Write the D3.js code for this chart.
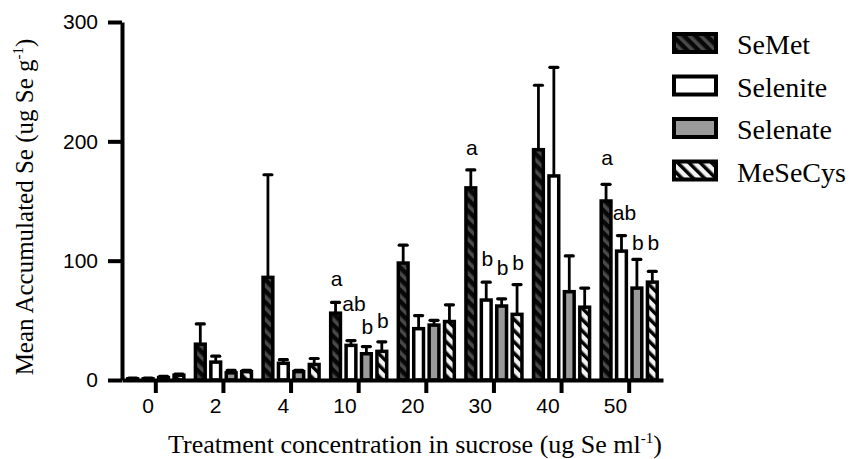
<!DOCTYPE html>
<html>
<head>
<meta charset="utf-8">
<script src="https://cdn.jsdelivr.net/npm/d3@7"></script>
<style>
  body { margin: 0; background: #fff; }
</style>
</head>
<body>
<div id="chart"></div>
<script>
let groups = ['0', '2', '4', '10', '20', '30', '40', '50']
let series = ['SeMet', 'Selenite', 'Selenate', 'MeSeCys']

let semet = [1, 30, 86, 56, 98, 161, 193, 150]
let semetErr = [0.5, 17, 86, 9, 15, 15, 54, 14]
let selenite = [1, 15, 14, 29, 43, 67, 171, 108]
let seleniteErr = [0.5, 5, 3, 4, 11, 15, 91, 13]
let selenate = [2, 6, 7, 22, 46, 62, 74, 77]
let selenateErr = [1, 2, 1, 6, 4, 6, 30, 24]
let mesecys = [4, 7, 13, 24, 49, 55, 61, 82]
let mesecysErr = [1, 1, 5, 8, 14, 25, 16, 9]

let yTicks = [0, 100, 200, 300]

// significance letters (centre height in data units)
let letterGroups = ['10', '10', '10', '10', '30', '30', '30', '30', '50', '50', '50', '50']
let letterSeries = ['SeMet', 'Selenite', 'Selenate', 'MeSeCys', 'SeMet', 'Selenite', 'Selenate', 'MeSeCys', 'SeMet', 'Selenite', 'Selenate', 'MeSeCys']
let letterText = ['a', 'ab', 'b', 'b', 'a', 'b', 'b', 'b', 'a', 'ab', 'b', 'b']
let letterValue = [85, 64, 45, 50, 195, 102, 94, 98, 186, 140, 115, 115]

let width = 850
let height = 459

let svg = d3.select('#chart')
  .append('svg')
  .attr('width', width)
  .attr('height', height)
  .style('background', '#fff')

let defs = svg.append('defs')

let p1 = defs.append('pattern')
  .attr('id', 'hatchDark')
  .attr('patternUnits', 'userSpaceOnUse')
  .attr('width', 8).attr('height', 8)
  .attr('patternTransform', 'rotate(-45)')
p1.append('rect').attr('width', 8).attr('height', 8).attr('fill', '#080808')
p1.append('rect').attr('width', 3.5).attr('height', 8).attr('fill', '#4a4a4a')

let p2 = defs.append('pattern')
  .attr('id', 'hatchLight')
  .attr('patternUnits', 'userSpaceOnUse')
  .attr('width', 8).attr('height', 8)
  .attr('patternTransform', 'rotate(-45)')
p2.append('rect').attr('width', 8).attr('height', 8).attr('fill', '#f2f2f2')
p2.append('rect').attr('width', 3.5).attr('height', 8).attr('fill', '#000')

let fills = {
  SeMet: 'url(#hatchDark)',
  Selenite: '#fff',
  Selenate: '#9a9a9a',
  MeSeCys: 'url(#hatchLight)'
}

let values = { SeMet: semet, Selenite: selenite, Selenate: selenate, MeSeCys: mesecys }
let errors = { SeMet: semetErr, Selenite: seleniteErr, Selenate: selenateErr, MeSeCys: mesecysErr }

let rows = []
groups.forEach((g, i) => {
  series.forEach(s => {
    rows.push({ group: g, series: s, value: values[s][i], err: errors[s][i] })
  })
})

let x0 = d3.scaleBand().domain(groups).range([122, 663]).paddingInner(0.12).paddingOuter(0.06)
let x1 = d3.scaleBand().domain(series).range([0, x0.bandwidth()]).paddingInner(0.14)
let y = d3.scaleLinear().domain([0, 300]).range([380, 22])

let cx = d => x0(d.group) + x1(d.series) + x1.bandwidth() / 2

// bars
let bw = x1.bandwidth() - 3.5
svg.append('g')
  .selectAll('rect')
  .data(rows)
  .enter().append('rect')
  .attr('x', d => x0(d.group) + x1(d.series) + 1.75)
  .attr('y', d => y(d.value))
  .attr('width', bw)
  .attr('height', d => y(0) - y(d.value))
  .attr('fill', d => fills[d.series])
  .attr('stroke', '#000')
  .attr('stroke-width', 3.5)

// error bars
let eb = svg.append('g').attr('stroke', '#000')
eb.selectAll('.err')
  .data(rows)
  .enter().append('line')
  .attr('class', 'err')
  .attr('x1', cx)
  .attr('x2', cx)
  .attr('y1', d => y(d.value))
  .attr('y2', d => y(d.value + d.err))
  .attr('stroke-width', 2.8)
eb.selectAll('.cap')
  .data(rows)
  .enter().append('line')
  .attr('class', 'cap')
  .attr('x1', d => cx(d) - 4)
  .attr('x2', d => cx(d) + 4)
  .attr('y1', d => y(d.value + d.err))
  .attr('y2', d => y(d.value + d.err))
  .attr('stroke-width', 3.2)
  .attr('stroke-linecap', 'round')

// letters
let letters = letterText.map((t, i) => ({ group: letterGroups[i], series: letterSeries[i], text: t, value: letterValue[i] }))
svg.append('g')
  .selectAll('text')
  .data(letters)
  .enter().append('text')
  .attr('x', d => cx(d) + (d.text === 'ab' ? 3 : 1))
  .attr('y', d => y(d.value))
  .attr('dy', '0.35em')
  .attr('text-anchor', 'middle')
  .style('font-family', 'Liberation Sans, Arial, sans-serif')
  .style('font-size', '21px')
  .text(d => d.text)

// axes
let yAxis = svg.append('g')
  .attr('transform', 'translate(122,0)')
  .call(d3.axisLeft(y).tickValues(yTicks).tickSize(14).tickSizeOuter(0).tickPadding(10))
yAxis.select('.domain').attr('stroke-width', 4)
yAxis.selectAll('.tick line').attr('stroke-width', 4)
yAxis.selectAll('.tick text')
  .style('font-family', 'Liberation Sans, Arial, sans-serif')
  .style('font-size', '21px')
  .attr('fill', '#000')

let xAxis = svg.append('g')
  .attr('transform', 'translate(0,380)')
  .call(d3.axisBottom(x0).tickSize(13).tickSizeOuter(0).tickPadding(5))
xAxis.select('.domain').attr('stroke-width', 4)
xAxis.selectAll('.tick line').attr('stroke-width', 4)
xAxis.selectAll('.tick text')
  .attr('text-anchor', 'end')
  .attr('x', -2)
  .style('font-family', 'Liberation Sans, Arial, sans-serif')
  .style('font-size', '21px')
  .attr('fill', '#000')

// axis titles
let yt = svg.append('text')
  .attr('transform', 'translate(33,207) rotate(-90)')
  .attr('text-anchor', 'middle')
  .style('font-family', 'Liberation Serif, Times New Roman, serif')
  .style('font-size', '25px')
yt.append('tspan').text('Mean Accumulated Se (ug Se g')
yt.append('tspan').attr('dy', -10).style('font-size', '15px').text('-1')
yt.append('tspan').attr('dy', 10).text(')')

let xt = svg.append('text')
  .attr('x', 415)
  .attr('y', 453)
  .attr('text-anchor', 'middle')
  .style('font-family', 'Liberation Serif, Times New Roman, serif')
  .style('font-size', '26px')
xt.append('tspan').text('Treatment concentration in sucrose (ug Se ml')
xt.append('tspan').attr('dy', -10).style('font-size', '15px').text('-1')
xt.append('tspan').attr('dy', 10).text(')')

// legend
let ly = d3.scaleBand().domain(series).range([32, 202])
let legend = svg.append('g')
  .selectAll('g')
  .data(series)
  .enter().append('g')
  .attr('transform', d => 'translate(672,' + ly(d) + ')')
legend.append('rect')
  .attr('x', 2).attr('y', 2)
  .attr('width', 42).attr('height', 18)
  .attr('fill', d => fills[d])
  .attr('stroke', '#000')
  .attr('stroke-width', 4)
legend.append('text')
  .attr('x', 65)
  .attr('y', 22)
  .style('font-family', 'Liberation Serif, Times New Roman, serif')
  .style('font-size', '28px')
  .text(d => d)
</script>
</body>
</html>
